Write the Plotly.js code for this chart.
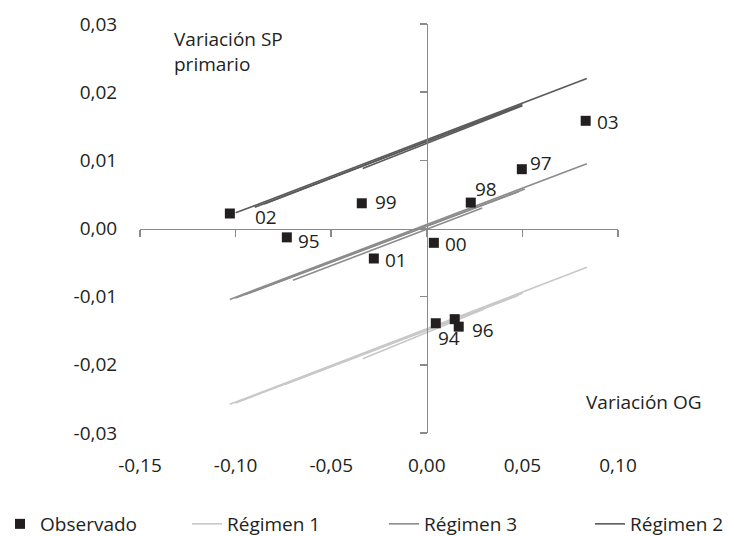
<!DOCTYPE html>
<html><head><meta charset="utf-8">
<script src="https://cdn.plot.ly/plotly-3.0.1.min.js"></script>
<style>html,body{margin:0;padding:0;background:#fff}#chart{width:734px;height:536px}</style>
</head><body><div id="chart"></div>
<script>
// ---- data ----
const obsLabels = ['94', '', '96', '95', '97', '98', '99', '00', '01', '02', '03'];
const obsX = [0.0047, 0.0146, 0.0167, -0.0732, 0.0497, 0.0230, -0.0340, 0.0037, -0.0277, -0.1030, 0.0831];
const obsY = [-0.0139, -0.0133, -0.0144, -0.0013, 0.0087, 0.0038, 0.0037, -0.0021, -0.0044, 0.0022, 0.0158];

const reg1X = [[-0.103, 0.0837], [-0.0743, 0.050], [-0.100, 0.048], [-0.0335, 0.030]];
const reg1Y = [[-0.0258, -0.0057], [-0.0229, -0.0095], [-0.0256, -0.0098], [-0.0191, -0.0118]];
const reg3X = [[-0.103, 0.0837], [-0.100, 0.0513], [-0.070, 0.029], [-0.095, 0.048]];
const reg3Y = [[-0.0104, 0.0095], [-0.0102, 0.0058], [-0.0076, 0.0030], [-0.0097, 0.0054]];
const reg2X = [[-0.100, 0.0837], [-0.085, 0.050], [-0.0335, 0.050], [-0.090, 0.048]];
const reg2Y = [[0.0023, 0.0220], [0.0036, 0.0182], [0.0088, 0.0180], [0.0031, 0.0179]];

const xTickVals = [-0.15, -0.10, -0.05, 0.00, 0.05, 0.10];
const xTickText = ['-0,15', '-0,10', '-0,05', '0,00', '0,05', '0,10'];
const yTickVals = [-0.03, -0.02, -0.01, 0.00, 0.01, 0.02, 0.03];
const yTickText = ['-0,03', '-0,02', '-0,01', '0,00', '0,01', '0,02', '0,03'];

// ---- styles ----
const FONT = 'Open Sans, sans-serif';
const TXT = '#231f20';
const AXC = '#8a8a8a';
// label offsets in px: [dx, dy(down)]
const labelOff = [[2, 15], [0, 0], [13, 3], [11, 4], [8, -6], [4, -14], [13, -1], [11, 1], [11, 2], [25, 3], [11, 1]];

const traces = [];
function addRegime(xs, ys, name, color, legendId) {
  xs.forEach((sx, i) => {
    traces.push({
      type: 'scatter', mode: 'lines', x: sx, y: ys[i],
      name: name, legendgroup: name, showlegend: i === 0, legend: legendId,
      line: {color: color, width: 1.6}, hoverinfo: 'skip'
    });
  });
}
addRegime(reg1X, reg1Y, 'Régimen 1', '#c8c8c8', 'legend2');
addRegime(reg3X, reg3Y, 'Régimen 3', '#8c8c8c', 'legend3');
addRegime(reg2X, reg2Y, 'Régimen 2', '#5a5a5a', 'legend4');
traces.push({
  type: 'scatter', mode: 'markers', x: obsX, y: obsY, name: 'Observado', legend: 'legend',
  marker: {symbol: 'square', size: 10, color: TXT}, text: obsLabels, hoverinfo: 'text'
});
// empty trace for the label-only axes
traces.push({type: 'scatter', x: [], y: [], xaxis: 'x2', yaxis: 'y2', showlegend: false, hoverinfo: 'skip'});

const annotations = [];
obsLabels.forEach((t, i) => {
  if (!t) return;
  annotations.push({
    x: obsX[i], y: obsY[i], xref: 'x', yref: 'y', text: t, showarrow: false,
    xanchor: 'left', yanchor: 'middle', xshift: labelOff[i][0] - 2, yshift: -labelOff[i][1],
    font: {family: FONT, size: 19, color: TXT}
  });
});
annotations.push({
  xref: 'paper', yref: 'paper', x: (172 - 140) / 478, y: (433 - 24) / 409,
  xanchor: 'left', yanchor: 'top', align: 'left', showarrow: false,
  text: 'Variación SP<br>primario', font: {family: FONT, size: 19, color: TXT}
});
annotations.push({
  xref: 'paper', yref: 'paper', x: (704 - 140) / 478, y: (433 - 402) / 409,
  xanchor: 'right', yanchor: 'middle', showarrow: false,
  text: 'Variación OG', font: {family: FONT, size: 19, color: TXT}
});

function legendAt(px) {
  return {
    xref: 'container', yref: 'container', x: px / 734, xanchor: 'left',
    y: 1 - 505 / 536, yanchor: 'top', orientation: 'h',
    font: {family: FONT, size: 19, color: TXT}, bgcolor: 'rgba(0,0,0,0)'
  };
}

const layout = {
  width: 734, height: 536,
  margin: {l: 140, r: 116, t: 24, b: 103},
  paper_bgcolor: '#fff', plot_bgcolor: 'rgba(0,0,0,0)',
  font: {family: FONT, size: 19, color: TXT},
  showlegend: true,
  xaxis: {
    range: [-0.15, 0.10], anchor: 'free', position: 0.5,
    showline: true, linecolor: AXC, linewidth: 1.5,
    ticks: 'outside', ticklen: 7, tickwidth: 1.5, tickcolor: AXC,
    tickvals: xTickVals, showticklabels: false,
    showgrid: false, zeroline: false, fixedrange: true
  },
  yaxis: {
    range: [-0.03, 0.03], anchor: 'free', position: 0.6,
    showline: true, linecolor: AXC, linewidth: 1.5,
    ticks: 'outside', ticklen: 7, tickwidth: 1.5, tickcolor: AXC,
    tickvals: yTickVals, showticklabels: false,
    showgrid: false, zeroline: false, fixedrange: true
  },
  xaxis2: {
    overlaying: 'x', anchor: 'y2', side: 'bottom', range: [-0.15, 0.10],
    showline: false, showgrid: false, zeroline: false,
    ticks: 'outside', ticklen: 15, tickcolor: 'rgba(0,0,0,0)',
    tickvals: xTickVals, ticktext: xTickText,
    tickfont: {family: FONT, size: 19, color: TXT}, fixedrange: true
  },
  yaxis2: {
    overlaying: 'y', anchor: 'x2', side: 'left', range: [-0.03, 0.03],
    showline: false, showgrid: false, zeroline: false,
    ticks: 'outside', ticklen: 18, tickcolor: 'rgba(0,0,0,0)',
    tickvals: yTickVals, ticktext: yTickText,
    tickfont: {family: FONT, size: 19, color: TXT}, fixedrange: true
  },
  legend: legendAt(0),
  legend2: legendAt(187),
  legend3: legendAt(384),
  legend4: legendAt(590),
  annotations: annotations
};

Plotly.newPlot('chart', traces, layout, {displayModeBar: false, staticPlot: true});
</script>
</body></html>
